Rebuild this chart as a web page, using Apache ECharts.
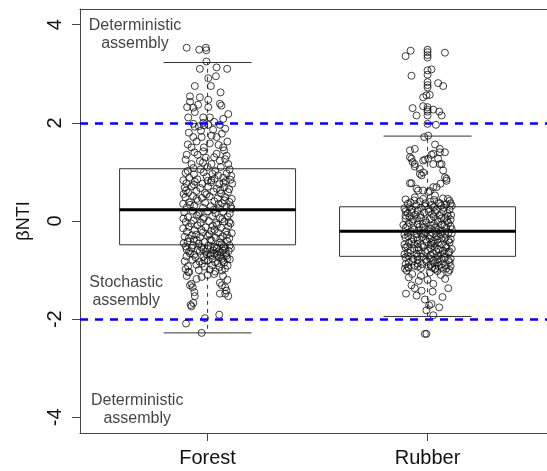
<!DOCTYPE html>
<html>
<head>
<meta charset="utf-8">
<script src="https://cdn.jsdelivr.net/npm/echarts@6/dist/echarts.min.js"></script>
<style>
  html, body { margin: 0; padding: 0; background: #fff; }
  #main { width: 547px; height: 471px; }
</style>
</head>
<body>
<div id="main"></div>
<script>
const groups = ['Forest', 'Rubber']
const yTicks = [-4, -2, 0, 2, 4]
const thresholds = [2, -2]
const zoneTexts = ['Deterministic\nassembly', 'Stochastic\nassembly', 'Deterministic\nassembly']

// lower whisker, Q1, median, Q3, upper whisker
const forestBox = [-2.28, -0.485, 0.23, 1.065, 3.23]
const rubberBox = [-1.945, -0.72, -0.21, 0.29, 1.73]

// [jitter offset from group centre, βNTI]
const forestPts = [
  [-0.095,3.53],[-0.038,3.49],[-0.008,3.53],[-0.006,3.48],[-0.005,3.25],
  [-0.035,3.10],[0.041,3.13],[0.089,3.10],[0.003,2.91],[0.038,2.95],
  [-0.058,2.75],[0.015,2.75],[0.059,2.62],[-0.080,2.54],[-0.035,2.52],
  [0.003,2.47],[-0.080,2.43],[0.056,2.39],[0.063,2.35],[-0.093,2.32],
  [-0.065,2.31],[-0.043,2.37],[0.003,2.32],[0.094,2.18],[-0.058,2.22],
  [-0.088,2.11],[-0.020,2.11],[0.010,2.11],[0.071,2.08],
  [-0.065,1.98],[-0.020,2.00],[0.003,1.96],[0.056,1.96],[0.080,1.88],[-0.040,1.93],[0.030,2.02],
  [-0.058,1.92],[-0.017,1.95],[-0.065,1.71],[-0.027,1.71],[0.018,1.74],[0.041,1.71],
  [-0.073,1.50],[-0.017,1.50],[0.071,1.50],[-0.095,1.35],[-0.045,1.35],[-0.008,1.29],
  [0.041,1.37],[0.086,1.33],[-0.073,1.16],[-0.021,1.19],[0.018,1.16],[0.056,1.23],[0.094,1.16],
  [-0.085,1.80],[-0.030,1.84],[0.025,1.86],[0.065,1.78],[0.090,1.62],[-0.050,1.62],[0.010,1.58],
  [-0.090,1.56],[0.050,1.55],[0.075,1.44],[-0.020,1.42],[-0.060,1.40],[0.030,1.30],[-0.100,1.25],
  [0.080,1.26],[-0.035,1.22],[0.060,1.10],[-0.065,1.08],[0.000,1.10],[0.100,1.05],[-0.090,1.02],[0.035,1.02],
  [-0.100,0.98],[-0.062,0.95],[-0.018,0.99],[0.022,0.96],[0.048,0.93],[0.087,0.97],[0.108,0.92],
  [-0.083,0.88],[-0.047,0.85],[-0.004,0.90],[0.032,0.86],[0.071,0.88],[0.104,0.84],[-0.110,0.83],
  [-0.096,0.77],[-0.058,0.80],[-0.023,0.76],[0.016,0.79],[0.053,0.75],[0.083,0.81],[0.112,0.76],
  [-0.104,0.68],[-0.072,0.71],[-0.033,0.67],[0.002,0.70],[0.041,0.66],[0.076,0.69],[0.098,0.65],
  [-0.088,0.58],[-0.051,0.61],[-0.012,0.57],[0.027,0.60],[0.061,0.56],[0.093,0.59],[-0.109,0.55],
  [-0.101,0.48],[-0.066,0.51],[-0.026,0.47],[0.009,0.50],[0.046,0.46],[0.079,0.49],[0.110,0.45],
  [-0.084,0.38],[-0.044,0.41],[-0.011,0.37],[0.031,0.40],[0.066,0.36],[0.099,0.39],[-0.111,0.35],
  [-0.094,0.28],[-0.061,0.31],[-0.021,0.27],[0.014,0.30],[0.051,0.26],[0.086,0.29],[0.109,0.25],
  [-0.106,0.18],[-0.069,0.21],[-0.036,0.17],[0.001,0.20],[0.036,0.16],[0.071,0.19],[0.101,0.15],
  [-0.089,0.08],[-0.049,0.11],[-0.016,0.07],[0.021,0.10],[0.056,0.06],[0.091,0.09],[-0.110,0.05],
  [-0.099,-0.02],[-0.064,0.01],[-0.031,-0.03],[0.006,0.00],[0.039,-0.04],[0.076,-0.01],[0.104,-0.05],
  [-0.086,-0.12],[-0.046,-0.09],[-0.009,-0.13],[0.024,-0.10],[0.061,-0.14],[0.094,-0.11],[-0.111,-0.15],
  [-0.094,-0.22],[-0.059,-0.19],[-0.021,-0.23],[0.016,-0.20],[0.049,-0.24],[0.084,-0.21],[0.110,-0.25],
  [-0.104,-0.32],[-0.071,-0.29],[-0.034,-0.33],[0.001,-0.30],[0.036,-0.34],[0.069,-0.31],[0.099,-0.35],
  [-0.091,-0.42],[-0.049,-0.39],[-0.014,-0.43],[0.019,-0.40],[0.056,-0.44],[0.089,-0.41],[-0.109,-0.45],
  [-0.099,-0.52],[-0.066,-0.49],[-0.029,-0.53],[0.004,-0.50],[0.041,-0.54],[0.074,-0.51],[0.106,-0.55],
  [-0.084,-0.62],[-0.046,-0.59],[-0.009,-0.63],[0.026,-0.60],[0.059,-0.64],[0.096,-0.61],[-0.021,-0.58],[0.041,-0.57],[0.071,-0.60],
  [-0.096,-0.72],[-0.061,-0.69],[-0.019,-0.73],[0.014,-0.70],[0.051,-0.74],[0.086,-0.71],[0.031,-0.67],[-0.004,-0.68],[0.066,-0.77],
  [-0.104,-0.82],[-0.069,-0.79],[-0.036,-0.83],[0.001,-0.80],[0.034,-0.84],[0.069,-0.81],[0.101,-0.78],[0.046,-0.86],
  [-0.089,-0.92],[-0.051,-0.89],[-0.014,-0.93],[0.021,-0.90],[0.054,-0.94],[0.091,-0.91],[0.079,-0.97],
  [-0.100,-0.98],[-0.040,-1.00],[0.010,-0.99],[0.035,-1.03],[0.065,-1.01],
  [-0.072,-0.55],[-0.035,-0.61],[0.012,-0.66],[0.048,-0.62],[0.083,-0.66],[-0.055,-0.74],[0.022,-0.77],
  [0.060,-0.70],[-0.015,-0.80],[0.090,-0.76],[-0.080,-0.66],[0.000,-0.57],[0.030,-0.52],[0.065,-0.47],
  [-0.040,-0.46],[0.100,-0.50],[-0.095,-0.58],[0.045,-0.69],[0.075,-0.85],[-0.025,-0.87],
  [0.058,-0.36],[-0.063,-0.38],[0.008,-0.27],[0.088,-0.28],[-0.028,-0.18],[0.043,-0.08],[-0.075,-0.05],
  [0.067,0.04],[-0.042,0.14],[0.028,0.23],[-0.080,0.33],[0.077,0.42],[-0.005,0.54],[0.058,0.63],
  [-0.062,0.74],[0.018,0.83],[-0.032,1.05],[0.072,0.78],[-0.098,0.62],[0.105,0.30],
  [0.012,-0.38],[-0.052,-0.28],[0.032,-0.18],[0.098,-0.02],[-0.020,0.04],[0.050,0.35],[-0.050,0.45],
  [0.000,0.82],[0.080,-0.56],[-0.085,-0.35],
  [-0.083,-1.04],[-0.027,-1.14],[-0.073,-1.28],[-0.068,-1.35],[0.056,-1.26],[0.080,-1.35],
  [-0.058,-1.53],[0.056,-1.48],[0.080,-1.48],[0.094,-1.53],[-0.077,-1.71],[-0.065,-1.67],
  [-0.073,-1.74],[0.053,-1.91],[-0.012,-1.98],[-0.098,-2.09],[-0.027,-2.28],[-0.088,-1.04],
  [0.030,-1.08],[0.070,-1.12],[-0.050,-1.18],[0.000,-1.10],[0.090,-1.20],[-0.095,-1.12],
  [0.065,-1.31],[-0.080,-1.31],[0.086,-1.42],[-0.060,-1.45]
]

const rubberPts = [
  [-0.100,3.36],[-0.077,3.47],[0.000,3.49],[0.000,3.44],[0.000,3.38],[0.000,3.33],[0.079,3.43],
  [-0.073,2.96],[0.000,3.07],[0.018,3.09],[0.000,2.98],[0.000,2.83],[0.000,2.77],[0.000,2.72],
  [0.048,2.81],[0.071,2.75],[-0.020,2.52],[-0.005,2.56],[0.010,2.57],
  [-0.068,2.30],[-0.050,2.15],[-0.020,2.34],[0.000,2.32],[0.000,2.27],[0.000,2.23],[0.026,2.27],
  [0.053,2.23],[0.064,2.15],[0.000,2.15],[0.000,1.98],[0.038,1.96],[-0.015,1.71],[0.003,1.74],
  [-0.080,1.44],[-0.058,1.47],[0.026,1.37],[0.056,1.40],[0.079,1.40],[-0.080,1.30],[-0.068,1.20],
  [-0.020,1.23],[0.003,1.27],[0.048,1.27],[0.064,1.16],[-0.058,1.11],[-0.035,1.06],[-0.020,0.99],
  [-0.035,0.96],[0.071,1.03],[0.079,0.89],[0.086,0.82],[-0.080,0.77],[-0.050,0.66],[-0.020,0.62],
  [0.010,0.61],[0.026,0.69],[0.034,0.52],[-0.058,0.48],
  [0.056,1.16],[0.086,0.86],[-0.073,0.77],[-0.043,0.62],[0.003,0.59],[0.041,0.69],[0.059,0.76],
  [-0.027,0.93],[0.026,1.16],[-0.012,1.25],[0.018,1.35],[0.034,1.56],[0.056,1.47],[-0.073,1.27],[-0.058,1.16],
  [-0.100,0.44],[-0.060,0.42],[-0.020,0.45],[0.030,0.43],[0.070,0.46],[0.100,0.41],
  [-0.090,0.35],[-0.050,0.32],[-0.010,0.36],[0.020,0.33],[0.050,0.37],[0.085,0.34],[0.110,0.31],
  [-0.105,0.26],[-0.070,0.23],[-0.030,0.27],[0.005,0.24],[0.040,0.22],[0.075,0.27],[0.100,0.23],[-0.045,0.21],
  [-0.090,0.16],[-0.055,0.13],[-0.015,0.17],[0.020,0.14],[0.055,0.12],[0.090,0.16],[-0.100,0.11],[0.035,0.18],
  [-0.100,0.05],[-0.065,0.03],[-0.030,0.07],[0.010,0.04],[0.045,0.02],[0.080,0.06],[0.105,0.03],[-0.010,0.01],
  [-0.085,-0.04],[-0.045,-0.07],[-0.005,-0.03],[0.030,-0.06],[0.065,-0.08],[0.095,-0.04],[-0.110,-0.08],[0.015,-0.09],
  [-0.100,-0.14],[-0.060,-0.17],[-0.020,-0.13],[0.015,-0.16],[0.050,-0.18],[0.085,-0.14],[0.110,-0.17],[-0.040,-0.19],
  [-0.090,-0.24],[-0.050,-0.27],[-0.010,-0.23],[0.025,-0.26],[0.060,-0.28],[0.095,-0.24],[-0.105,-0.28],[0.040,-0.22],
  [-0.100,-0.34],[-0.065,-0.37],[-0.025,-0.33],[0.010,-0.36],[0.045,-0.38],[0.080,-0.34],[0.105,-0.37],[-0.045,-0.39],
  [-0.085,-0.44],[-0.045,-0.47],[-0.005,-0.43],[0.030,-0.46],[0.065,-0.48],[0.100,-0.44],[-0.105,-0.48],[0.015,-0.49],
  [-0.100,-0.54],[-0.060,-0.57],[-0.020,-0.53],[0.015,-0.56],[0.050,-0.58],[0.085,-0.54],[0.110,-0.57],[-0.040,-0.59],
  [-0.090,-0.64],[-0.050,-0.67],[-0.010,-0.63],[0.025,-0.66],[0.060,-0.68],[0.095,-0.64],[-0.105,-0.68],[0.040,-0.62],
  [-0.100,-0.74],[-0.065,-0.77],[-0.025,-0.73],[0.010,-0.76],[0.045,-0.78],[0.080,-0.74],[0.105,-0.77],[-0.045,-0.79],
  [-0.085,-0.84],[-0.045,-0.87],[-0.005,-0.83],[0.030,-0.86],[0.065,-0.88],[0.100,-0.84],[-0.100,-0.88],[0.015,-0.89],
  [-0.090,-0.94],[-0.030,-0.96],[0.020,-0.95],[0.050,-0.92],[0.085,-0.97],[-0.060,-0.91],
  [-0.078,0.38],[-0.035,0.40],[0.012,0.39],[0.058,0.36],[0.092,0.45],
  [-0.083,0.28],[-0.012,0.30],[0.028,0.28],[0.062,0.31],[0.105,0.36],
  [-0.073,0.18],[-0.033,0.12],[0.005,0.19],[0.072,0.20],[0.107,0.12],
  [-0.082,0.08],[-0.048,0.05],[0.028,0.09],[0.062,0.05],[0.092,0.10],
  [-0.068,-0.01],[-0.022,-0.06],[0.048,-0.02],[0.078,-0.10],[0.105,-0.11],
  [-0.092,-0.11],[-0.038,-0.12],[0.002,-0.18],[0.035,-0.13],[0.068,-0.20],
  [-0.075,-0.21],[-0.030,-0.25],[0.008,-0.29],[0.042,-0.31],[0.078,-0.26],
  [-0.088,-0.31],[-0.048,-0.33],[-0.008,-0.38],[0.028,-0.41],[0.062,-0.36],[0.095,-0.40],
  [-0.072,-0.42],[-0.025,-0.49],[0.048,-0.44],[0.082,-0.50],[-0.092,-0.52],
  [-0.042,-0.54],[0.002,-0.60],[0.032,-0.53],[0.070,-0.60],[0.100,-0.62],
  [-0.078,-0.60],[-0.030,-0.66],[0.012,-0.70],[0.045,-0.71],[0.078,-0.66],
  [-0.088,-0.71],[-0.045,-0.72],[-0.008,-0.79],[0.028,-0.80],[0.062,-0.77],[0.095,-0.80],
  [-0.068,-0.82],[-0.025,-0.88],[0.048,-0.84],[0.082,-0.90],[-0.085,-0.95],
  [-0.045,-0.93],[0.005,-0.92],[0.035,-0.98],[0.065,-0.95],[0.105,-0.92],
  [-0.060,-0.47],[0.018,-0.45],[-0.015,-0.27],[0.088,0.00],[-0.100,0.20],[0.110,-0.25],
  [-0.103,-0.97],[-0.095,-1.01],[0.034,-0.97],[0.094,-1.04],[-0.073,-1.31],[-0.058,-1.37],[0.026,-1.28],
  [0.094,-1.37],[-0.098,-1.48],[-0.050,-1.52],[-0.027,-1.42],[0.023,-1.44],[0.068,-1.55],[-0.012,-1.60],
  [0.018,-1.69],[0.007,-1.72],[0.053,-1.76],[-0.005,-1.82],[0.026,-1.92],[-0.012,-2.30],[-0.005,-2.30],
  [-0.070,-1.08],[-0.030,-1.12],[0.010,-1.05],[0.060,-1.10],[0.080,-1.18],[-0.040,-1.22],[0.000,-1.20],
  [-0.085,-1.15],[0.045,-1.02],[0.100,-1.00]
]

const font = 'Liberation Sans, Arial, sans-serif'
const ink = '#333'

// R style box: dashed whiskers, solid caps, thick median
function renderBox (params, api) {
  const x = api.value(0)
  const lo = api.value(1), q1 = api.value(2), med = api.value(3), q3 = api.value(4), hi = api.value(5)
  const p = (dx, y) => api.coord([x + dx, y])
  const seg = (a, b, style) => ({
    type: 'line',
    shape: { x1: a[0], y1: a[1], x2: b[0], y2: b[1] },
    style: Object.assign({ stroke: ink, lineWidth: 1 }, style)
  })
  const tl = p(-0.4, q3), br = p(0.4, q1)
  return {
    type: 'group',
    children: [
      seg(p(0, q3), p(0, hi), { lineDash: [4, 4] }),
      seg(p(0, q1), p(0, lo), { lineDash: [4, 4] }),
      seg(p(-0.2, hi), p(0.2, hi)),
      seg(p(-0.2, lo), p(0.2, lo)),
      {
        type: 'rect',
        shape: { x: tl[0], y: tl[1], width: br[0] - tl[0], height: br[1] - tl[1] },
        style: { fill: 'none', stroke: ink, lineWidth: 1 }
      },
      seg(p(-0.4, med), p(0.4, med), { stroke: '#000', lineWidth: 3 })
    ]
  }
}

// the plot box runs past the right edge of the picture
const xMin = 0.42, xMax = 2.543

const chart = echarts.init(document.getElementById('main'))
chart.setOption({
  animation: false,
  backgroundColor: '#fff',
  textStyle: { fontFamily: font },
  grid: { left: 80, top: 9, right: 0, bottom: 38, show: false },
  xAxis: [{
    type: 'value', min: xMin, max: xMax,
    axisLine: { show: true, onZero: false, lineStyle: { color: '#444' } },
    splitLine: { show: false },
    axisTick: { show: true, length: 8, customValues: [1, 2], lineStyle: { color: '#444' } },
    axisLabel: {
      customValues: [1, 2], margin: 15, fontSize: 20, color: '#111',
      formatter: v => groups[Math.round(v) - 1]
    }
  }, {
    type: 'value', position: 'top', min: xMin, max: xMax,
    axisLine: { show: true, onZero: false, lineStyle: { color: '#444' } },
    axisTick: { show: false }, axisLabel: { show: false }, splitLine: { show: false }
  }],
  yAxis: {
    type: 'value', min: -4.32, max: 4.32,
    name: 'βNTI', nameLocation: 'middle', nameGap: 47,
    nameTextStyle: { fontSize: 18, color: '#111' },
    axisLine: { show: true, onZero: false, lineStyle: { color: '#444' } },
    splitLine: { show: false },
    axisTick: { show: true, length: 8, customValues: yTicks, lineStyle: { color: '#444' } },
    axisLabel: { customValues: yTicks, rotate: 90, margin: 15, fontSize: 20, color: '#111' }
  },
  series: [
    {
      type: 'custom',
      renderItem: renderBox,
      encode: { x: 0, y: [1, 2, 3, 4, 5] },
      data: [[1].concat(forestBox), [2].concat(rubberBox)],
      z: 2
    },
    {
      type: 'scatter',
      symbol: 'circle',
      symbolSize: 7,
      itemStyle: { color: 'rgba(0,0,0,0)', borderColor: '#111', borderWidth: 1 },
      data: forestPts.map(d => [1 + d[0], d[1]])
        .concat(rubberPts.map(d => [2 + d[0], d[1]])),
      z: 3
    },
    {
      type: 'scatter',
      symbolSize: 0,
      data: [
        { value: [0.67, 3.79], name: zoneTexts[0] },
        { value: [0.63, -1.43], name: zoneTexts[1] },
        { value: [0.68, -3.85], name: zoneTexts[2] }
      ],
      label: {
        show: true, position: 'inside', formatter: '{b}',
        fontSize: 16, lineHeight: 18, color: '#111', align: 'center'
      },
      markLine: {
        silent: true,
        symbol: 'none',
        label: { show: false },
        lineStyle: { color: '#0000ff', width: 2.5, type: [8, 7] },
        data: thresholds.map(t => ({ yAxis: t }))
      },
      z: 5
    }
  ]
})
</script>
</body>
</html>
